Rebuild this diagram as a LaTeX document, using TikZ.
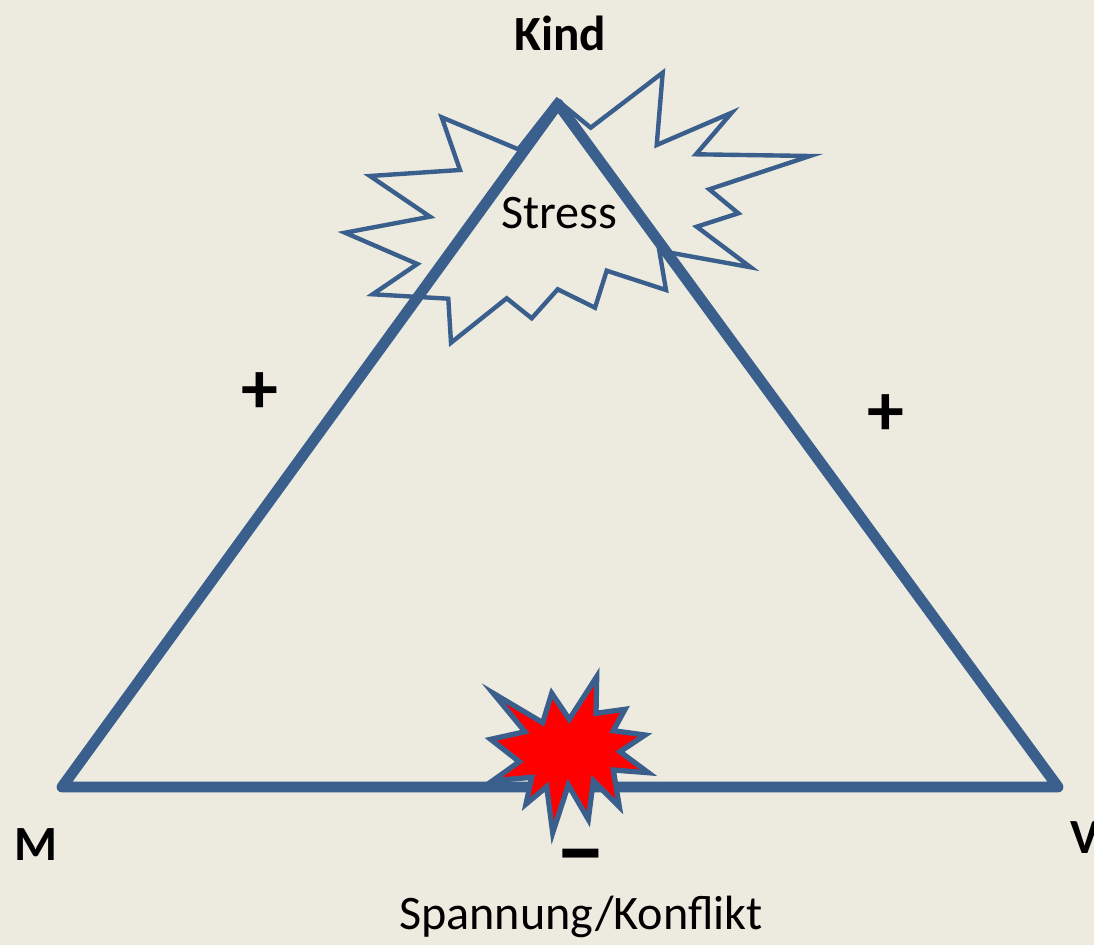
\documentclass[tikz,border=0pt]{standalone}
\usepackage{fontspec}
\setmainfont{Carlito}
\definecolor{bg}{RGB}{237,235,224}
\definecolor{tri}{RGB}{58,95,140}
\begin{document}
\begin{tikzpicture}[x=0.02cm,y=-0.02cm,
  lbl/.style={inner sep=0pt,font=\fontsize{27.4}{30}\selectfont},
  blbl/.style={inner sep=0pt,font=\fontsize{28}{30}\selectfont\bfseries},
  sgn/.style={inner sep=0pt,font=\fontsize{42}{44}\selectfont\bfseries},
  msgn/.style={inner sep=0pt,font=\fontsize{58}{60}\selectfont\bfseries,text height=0.36em,text depth=0pt,anchor=base},
  edge/.style={draw=tri,line width=6.2pt,line join=round,line cap=round},
  cloud/.style={draw=tri,line width=2.5pt,line join=miter},
  boom/.style={draw=tri,fill=red,line width=3pt,line join=miter}]
\fill[bg] (0,0) rectangle (1094,945);
\clip (0,0) rectangle (1094,945);
\useasboundingbox (0,0) rectangle (1094,945);
% stress cloud
\draw[cloud] (441.7,117.3) -- (460,170) -- (370,176) -- (430,216.7) -- (345,232.7)
  -- (417.3,264) -- (372.7,294.3) -- (448.3,298.7) -- (451,342.7) -- (506.7,298.3)
  -- (531.7,318.3) -- (557.7,289.3) -- (595,307.7) -- (606.7,270.7) -- (666,290)
  -- (659.3,250.7) -- (750.7,267.3) -- (696.7,226.7) -- (738.3,213.3) -- (709.3,189.3)
  -- (810,156) -- (696,154.3) -- (731.7,112.7) -- (656.7,145) -- (662.7,72.7)
  -- (590.7,127.7) -- (557,100) -- (518.3,149.3) -- cycle;
% triangle
\coordinate (K) at (558,104);
\coordinate (Mc) at (62,787);
\coordinate (Vc) at (1058,787);
\draw[edge] (K) -- (Mc) -- (Vc) -- cycle;
% explosion
\draw[boom] (493.3,693.3) -- (542.7,722.7) -- (551.7,693.3) -- (569.3,719.3) -- (596.7,676.7)
  -- (596,713.3) -- (625,709.3) -- (613.3,730.7) -- (645,735) -- (620,751.7)
  -- (648.3,772.7) -- (613.3,770) -- (619.3,806.7) -- (593.3,780.7) -- (588.3,819.3)
  -- (568.3,785) -- (552.7,832.7) -- (546.7,786.7) -- (526,804) -- (531.7,777.3)
  -- (492.7,780.7) -- (519.3,761.7) -- (490.7,739.3) -- (525,731.7) -- cycle;
% labels
\node[lbl] (stress) at (559,213) {Stress};
\node[blbl] (kind) at (560,33) {Kind};
\node[blbl] (m) at (36,845) {M};
\node[blbl,anchor=west] (v) at (1070,838) {V};
\node[sgn] (p1) at (260,393) {+};
\node[sgn] (p2) at (886,415) {+};
\node[msgn] (mi) at (581,882) {–};
\node[lbl] (konf) at (581,917) {Spannung/Konflikt};
\end{tikzpicture}
\end{document}
